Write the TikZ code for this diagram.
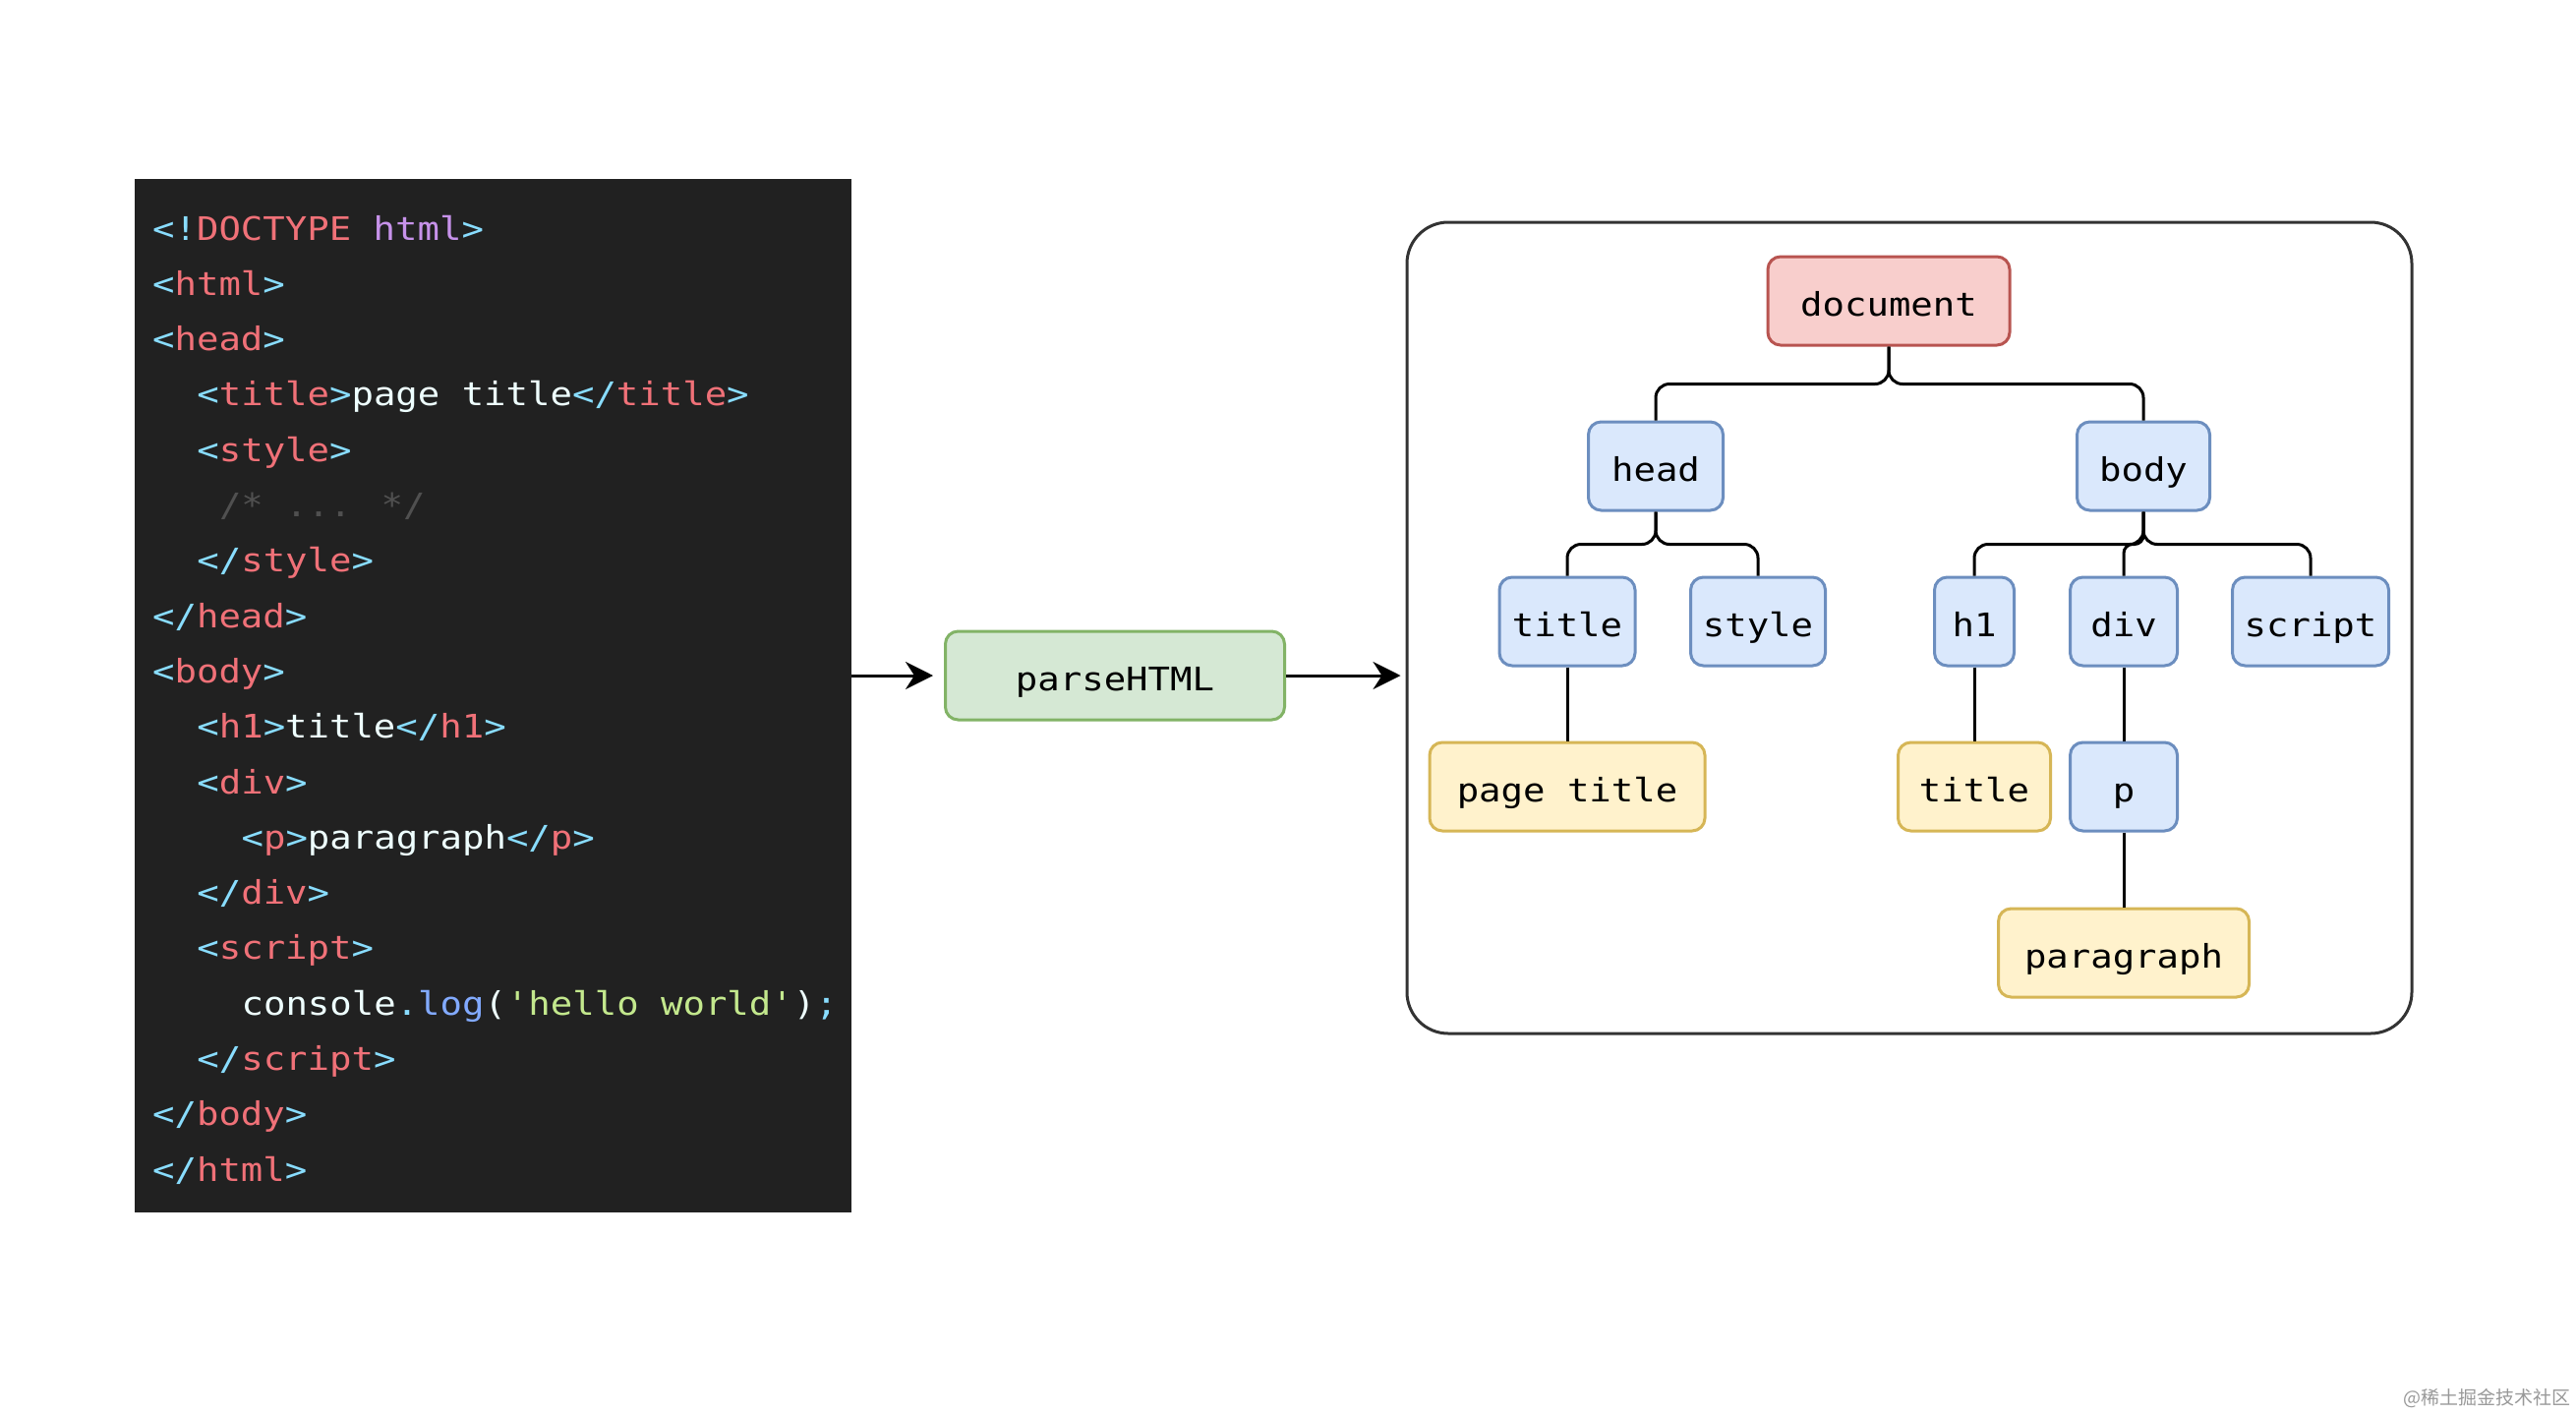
\documentclass[tikz,border=0pt]{standalone}
\usepackage{fontspec}
\usetikzlibrary{arrows.meta}
\newfontfamily\codefont[FakeStretch=1.13,Ligatures=TeXOff]{DejaVu Sans Mono}
\newfontfamily\cjkfont{Noto Sans CJK SC}
\definecolor{codebg}{HTML}{212121}
\definecolor{cblu}{HTML}{89DDFF}
\definecolor{cred}{HTML}{F07178}
\definecolor{cpur}{HTML}{C792EA}
\definecolor{ctxt}{HTML}{EEFFFF}
\definecolor{ccom}{HTML}{505050}
\definecolor{cfun}{HTML}{82AAFF}
\definecolor{cstr}{HTML}{C3E88D}
\definecolor{bfill}{HTML}{DAE8FC}
\definecolor{bline}{HTML}{6C8EBF}
\definecolor{yfill}{HTML}{FFF2CC}
\definecolor{yline}{HTML}{D6B656}
\definecolor{gfill}{HTML}{D5E8D4}
\definecolor{gline}{HTML}{82B366}
\definecolor{rfill}{HTML}{F8CECC}
\definecolor{rline}{HTML}{B85450}
\newcommand\kBlu[1]{\textcolor{cblu}{#1}}
\newcommand\kRed[1]{\textcolor{cred}{#1}}
\newcommand\kPur[1]{\textcolor{cpur}{#1}}
\newcommand\kCom[1]{\textcolor{ccom}{#1}}
\newcommand\kFun[1]{\textcolor{cfun}{#1}}
\newcommand\kStr[1]{\textcolor{cstr}{#1}}
\begin{document}
\begin{tikzpicture}[x=1pt,y=-1pt,
  codeline/.style={anchor=base west,inner sep=0pt,text=ctxt,font={\codefont\fontsize{33}{40}\selectfont}},
  treebox/.style={draw,rounded corners=13pt,line width=3pt,inner sep=0pt,minimum height=90pt,
     text height=34pt,text depth=4pt,text=black,font={\codefont\fontsize{33}{40}\selectfont}},
  bluebox/.style={treebox,fill=bfill,draw=bline},
  yelbox/.style={treebox,fill=yfill,draw=yline},
  grnbox/.style={treebox,fill=gfill,draw=gline},
  redbox/.style={treebox,fill=rfill,draw=rline},
  edge/.style={draw=black,line width=3pt,rounded corners=14pt},
  arrow/.style={draw=black,line width=3pt,-{Stealth[length=28pt,width=28pt,inset=9pt]}}
]
\useasboundingbox (0,0) rectangle (2620,1438);
\fill[white] (0,0) rectangle (2620,1438);

% code panel
\node[fill=codebg,minimum width=729pt,minimum height=1051pt,inner sep=0pt] (code) at (501.5,707.5) {};
\node[codeline] (l0) at (155,244) {\kBlu{<!}\kRed{DOCTYPE} \kPur{html}\kBlu{>}};
\node[codeline] (l1) at (155,300.3) {\kBlu{<}\kRed{html}\kBlu{>}};
\node[codeline] (l2) at (155,356.6) {\kBlu{<}\kRed{head}\kBlu{>}};
\node[codeline] (l3) at (200.2,412.9) {\kBlu{<}\kRed{title}\kBlu{>}page title\kBlu{</}\kRed{title}\kBlu{>}};
\node[codeline] (l4) at (200.2,469.2) {\kBlu{<}\kRed{style}\kBlu{>}};
\node[codeline] (l5) at (222.8,525.5) {\kCom{/* ... */}};
\node[codeline] (l6) at (200.2,581.8) {\kBlu{</}\kRed{style}\kBlu{>}};
\node[codeline] (l7) at (155,638.1) {\kBlu{</}\kRed{head}\kBlu{>}};
\node[codeline] (l8) at (155,694.4) {\kBlu{<}\kRed{body}\kBlu{>}};
\node[codeline] (l9) at (200.2,750.7) {\kBlu{<}\kRed{h1}\kBlu{>}title\kBlu{</}\kRed{h1}\kBlu{>}};
\node[codeline] (l10) at (200.2,807) {\kBlu{<}\kRed{div}\kBlu{>}};
\node[codeline] (l11) at (245.4,863.3) {\kBlu{<}\kRed{p}\kBlu{>}paragraph\kBlu{</}\kRed{p}\kBlu{>}};
\node[codeline] (l12) at (200.2,919.6) {\kBlu{</}\kRed{div}\kBlu{>}};
\node[codeline] (l13) at (200.2,975.9) {\kBlu{<}\kRed{script}\kBlu{>}};
\node[codeline] (l14) at (245.4,1032.2) {console\kBlu{.}\kFun{log}(\kStr{'hello world'})\kBlu{;}};
\node[codeline] (l15) at (200.2,1088.5) {\kBlu{</}\kRed{script}\kBlu{>}};
\node[codeline] (l16) at (155,1144.8) {\kBlu{</}\kRed{body}\kBlu{>}};
\node[codeline] (l17) at (155,1201.1) {\kBlu{</}\kRed{html}\kBlu{>}};

% parse step
\node[grnbox,minimum width=345pt] (parse) at (1134,687) {parseHTML};

% tree container
\node[draw=black!80,line width=3pt,rounded corners=42pt,minimum width=1022pt,minimum height=825pt,inner sep=0pt] (tree) at (1942,638.5) {};

% tree nodes
\node[redbox,minimum width=246pt] (document) at (1921,306) {document};
\node[bluebox,minimum width=137pt] (head) at (1684,474) {head};
\node[bluebox,minimum width=135pt] (body) at (2180,474) {body};
\node[bluebox,minimum width=138pt] (title1) at (1594,632) {title};
\node[bluebox,minimum width=137pt] (style) at (1788,632) {style};
\node[bluebox,minimum width=81pt] (h1) at (2008,632) {h1};
\node[bluebox,minimum width=109pt] (div) at (2160,632) {div};
\node[bluebox,minimum width=159pt] (script) at (2350,632) {script};
\node[yelbox,minimum width=280pt] (pagetitle) at (1594,800) {page title};
\node[yelbox,minimum width=155pt] (title2) at (2008,800) {title};
\node[bluebox,minimum width=109pt] (p) at (2160,800) {p};
\node[yelbox,minimum width=255pt] (paragraph) at (2160,969) {paragraph};

% tree edges
\draw[edge] (document.south) -- ++(0,38) -| (head.north);
\draw[edge] (document.south) -- ++(0,38) -| (body.north);
\draw[edge] (head.south) -- ++(0,33) -| (title1.north);
\draw[edge] (head.south) -- ++(0,33) -| (style.north);
\draw[edge] (body.south) -- ++(0,33) -| (h1.north);
\draw[edge,rounded corners=9pt] (body.south) -- ++(0,33) -| (div.north);
\draw[edge] (body.south) -- ++(0,33) -| (script.north);
\draw[edge] (title1.south) -- (pagetitle.north);
\draw[edge] (h1.south) -- (title2.north);
\draw[edge] (div.south) -- (p.north);
\draw[edge] (p.south) -- (paragraph.north);

% arrows
\draw[arrow,shorten >=11pt] (code.east |- parse.west) -- (parse.west);
\draw[arrow,shorten >=5pt] (parse.east) -- (tree.west |- parse.east);

% watermark
\node[anchor=east,inner sep=0pt,text=black!40,font={\cjkfont\fontsize{19}{22}\selectfont}] (wm) at (2615,1422) {@稀土掘金技术社区};
\end{tikzpicture}
\end{document}
